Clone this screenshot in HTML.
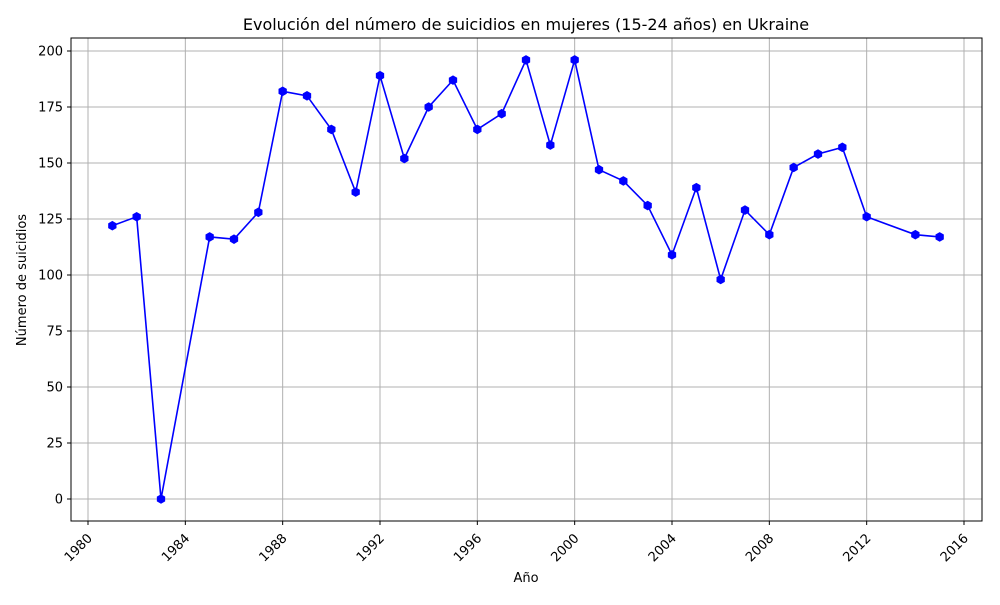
<!DOCTYPE html>
<html><head><meta charset="utf-8"><style>
body{margin:0;background:#fff;font-family:"Liberation Sans","DejaVu Sans",sans-serif;}
</style></head><body>
<svg id="chart" width="1000" height="600" xmlns="http://www.w3.org/2000/svg" font-family="DejaVu Sans, Liberation Sans, sans-serif">
<text x="526" y="30" text-anchor="middle" font-size="16">Evolución del número de suicidios en mujeres (15-24 años) en Ukraine</text>
<text x="526" y="582" text-anchor="middle" font-size="13">Año</text>
<text transform="translate(26,280) rotate(-90)" text-anchor="middle" font-size="13">Número de suicidios</text>
<g id="grid"></g><g id="ticks"></g><g id="series"></g>
<rect x="71" y="38" width="911" height="483" fill="none" stroke="#000" stroke-width="1"/>
</svg>
<script>
const years=[1981,1982,1983,1985,1986,1987,1988,1989,1990,1991,1992,1993,1994,1995,1996,1997,1998,1999,2000,2001,2002,2003,2004,2005,2006,2007,2008,2009,2010,2011,2012,2014,2015];
const values=[122,126,0,117,116,128,182,180,165,137,189,152,175,187,165,172,196,158,196,147,142,131,109,139,98,129,118,148,154,157,126,118,117];
const xTicks=[1980,1984,1988,1992,1996,2000,2004,2008,2012,2016];
const yTicks=[0,25,50,75,100,125,150,175,200];
const NS="http://www.w3.org/2000/svg";
const x=v=>88+(v-1980)*(964-88)/36;
const y=v=>499-v*(499-51)/200;
const grid=document.getElementById('grid'),ticks=document.getElementById('ticks'),ser=document.getElementById('series');
function mk(tag,attrs,parent){const e=document.createElementNS(NS,tag);for(const k in attrs)e.setAttribute(k,attrs[k]);parent.appendChild(e);return e;}
xTicks.forEach(t=>{
 const gl=mk('line',{x1:x(t),x2:x(t),y1:38,y2:521,stroke:'#b0b0b0','stroke-width':1},grid);
 
 
 mk('line',{x1:x(t),x2:x(t),y1:521,y2:525,stroke:'#000'},ticks);
 const tx=mk('text',{x:x(t)+5,y:539,'font-size':13,'text-anchor':'end',transform:`rotate(-45 ${x(t)+5} 539)`},ticks);
 tx.textContent=t;
 
 
});
yTicks.forEach(t=>{
 const gl=mk('line',{x1:71,x2:982,y1:y(t),y2:y(t),stroke:'#b0b0b0','stroke-width':1},grid);
 
 
 mk('line',{x1:67,x2:71,y1:y(t),y2:y(t),stroke:'#000'},ticks);
 const tx=mk('text',{x:63,y:y(t)+4.5,'font-size':13,'text-anchor':'end'},ticks);
 tx.textContent=t;
 
 
});
const pl=mk('polyline',{points:years.map((v,i)=>x(v)+','+y(values[i])).join(' '),fill:'none',stroke:'#0000ff','stroke-width':1.6},ser);


years.forEach((v,i)=>{
 const cx=x(v),cy=y(values[i]),r=4.8;
 const pts=[];for(let k=0;k<6;k++){const a=Math.PI/2+k*Math.PI/3;pts.push((cx+r*Math.cos(a))+','+(cy+r*Math.sin(a)));}
 const p=mk('polygon',{points:pts.join(' '),fill:'#0000ff'},ser);
 
 
});
</script>
</body></html>
